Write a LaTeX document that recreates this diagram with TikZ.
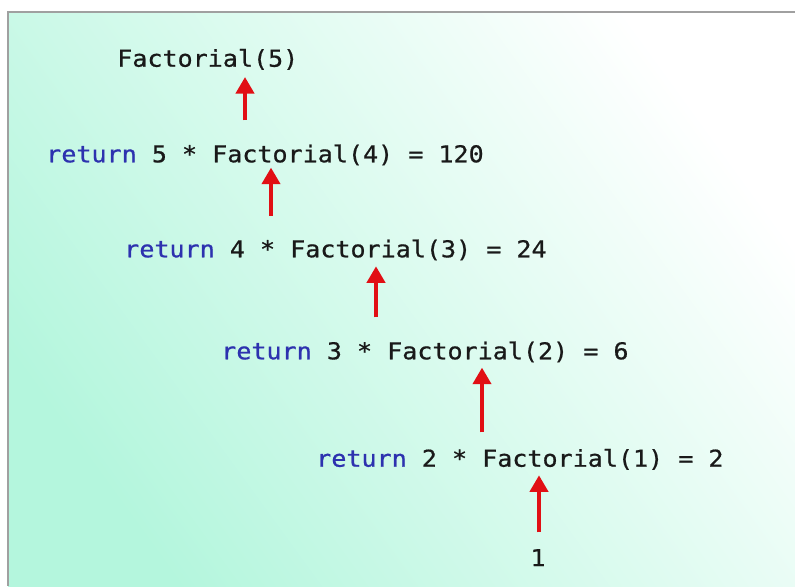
\documentclass[tikz,border=0pt]{standalone}
\usepackage{fontspec}
\newfontfamily\codefont[FakeStretch=1.08,FakeBold=0.7]{DejaVu Sans Mono}
\usetikzlibrary{arrows.meta}

\definecolor{kwblue}{RGB}{45,50,175}
\definecolor{codeblack}{RGB}{25,25,25}
\definecolor{arrowred}{RGB}{225,15,20}
\definecolor{mintdeep}{RGB}{180,246,221}
\definecolor{mintmid}{RGB}{210,250,235}
\definecolor{mintpale}{RGB}{255,255,255}
\definecolor{framegray}{RGB}{160,160,160}
\newcommand{\kw}[1]{\textcolor{kwblue}{#1}}

\begin{document}
\begin{tikzpicture}[
    x=0.75pt, y=-0.75pt,
    code/.style={
        anchor=base west,
        inner sep=0pt,
        text height=13pt,
        text depth=3pt,
        text=codeblack,
        font=\codefont\fontsize{17.4}{20}\selectfont
    },
    uparrow/.style={
        draw=arrowred,
        line width=3.4pt,
        -{Triangle[length=12.5pt,width=13.5pt]}
    }
]
\useasboundingbox (0,0) rectangle (795,586);

% Background
\shade[top color=mintpale, middle color=mintmid, bottom color=mintdeep, shading angle=-54] (8,12) rectangle (795,586);
\draw[framegray, line width=1.5pt] (8,586) -- (8,12) -- (795,12);

% Nodes
\node[code] (f5) at (117,66.7) {Factorial(5)};
\node[code] (r5) at (46,162.3) {\kw{return} 5 * Factorial(4) = 120};
\node[code] (r4) at (124,257.3) {\kw{return} 4 * Factorial(3) = 24};
\node[code] (r3) at (221,359.3) {\kw{return} 3 * Factorial(2) = 6};
\node[code] (r2) at (316,466.7) {\kw{return} 2 * Factorial(1) = 2};
\node[code, anchor=base] (one) at (538,566) {1};

% Arrow columns
\coordinate (c1) at (245,0);
\coordinate (c2) at (271,0);
\coordinate (c3) at (376,0);
\coordinate (c4) at (482,0);
\coordinate (c5) at (539,0);

% Connections
\draw[uparrow, shorten <=18.2pt, shorten >=4.5pt] (r5.north -| c1) -- (f5.south -| c1);
\draw[uparrow, shorten <=18pt, shorten >=0.75pt] (r4.north -| c2) -- (r5.south -| c2);
\draw[uparrow, shorten <=18.2pt, shorten >=3.5pt] (r3.north -| c3) -- (r4.south -| c3);
\draw[uparrow, shorten <=12.5pt, shorten >=3pt] (r2.north -| c4) -- (r3.south -| c4);
\draw[uparrow, shorten <=12pt, shorten >=3.2pt] (one.north -| c5) -- (r2.south -| c5);

\end{tikzpicture}
\end{document}
